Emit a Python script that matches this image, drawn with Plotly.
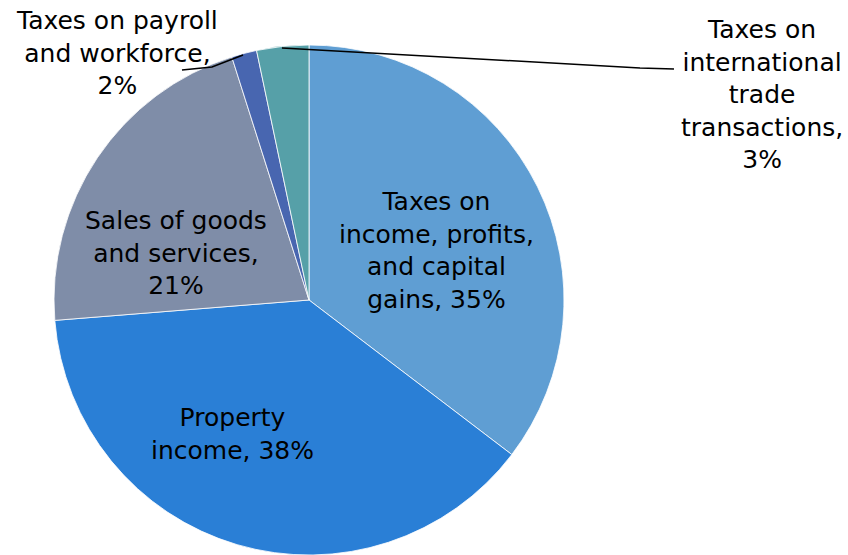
import plotly.graph_objects as go

# Revenue composition by source
categories = [
    "Taxes on income, profits, and capital gains",
    "Property income",
    "Sales of goods and services",
    "Taxes on payroll and workforce",
    "Taxes on international trade transactions",
]
values = [35.4, 38.4, 21.4, 1.6, 3.3]
colors = ["#5F9ED3", "#2A7FD6", "#7F8DA8", "#4866B0", "#56A0A8"]

# Label text split into display lines (percentage appended below)
label_lines = [
    ["Taxes on", "income, profits,", "and capital", "gains, {p}%"],
    ["Property", "income, {p}%"],
    ["Sales of goods", "and services,", "{p}%"],
    ["Taxes on payroll", "and workforce,", "{p}%"],
    ["Taxes on", "international", "trade", "transactions,", "{p}%"],
]
# Label anchor points in pixel space (x, y from top)
label_pos = [(436, 250), (232, 434), (176, 253), (117, 53), (762, 94)]

W, H = 848, 555
R = 255
CX = 309

total = sum(values)
pcts = [round(v / total * 100) for v in values]

fig = go.Figure(
    go.Pie(
        labels=categories,
        values=values,
        sort=False,
        direction="clockwise",
        rotation=0,
        marker=dict(colors=colors, line=dict(color="white", width=0.8)),
        textinfo="none",
        hoverinfo="label+percent",
        domain=dict(x=[(CX - R) / W, (CX + R) / W], y=[0, 2 * R / H]),
        showlegend=False,
    )
)

font = dict(family="DejaVu Sans", size=25, color="#000000")
for lines, (px, py), p in zip(label_lines, label_pos, pcts):
    text = "<br>".join(s.format(p=p) for s in lines)
    fig.add_annotation(
        x=px / W, y=1 - py / H, xref="paper", yref="paper",
        text=text, showarrow=False, font=font, align="center",
        xanchor="center", yanchor="middle",
    )

def pth(points):
    return "M " + " L ".join(f"{x / W:.4f},{1 - y / H:.4f}" for x, y in points)

# Leader lines for the two thin slices
fig.add_shape(type="path", xref="paper", yref="paper",
              path=pth([(182, 70), (212, 67), (243, 55)]),
              line=dict(color="black", width=1.5))
fig.add_shape(type="path", xref="paper", yref="paper",
              path=pth([(282, 48), (640, 68), (674, 69)]),
              line=dict(color="black", width=1.5))

fig.update_layout(
    width=W, height=H,
    margin=dict(l=0, r=0, t=0, b=0),
    paper_bgcolor="white",
    plot_bgcolor="white",
)

fig.write_html("out.html")
